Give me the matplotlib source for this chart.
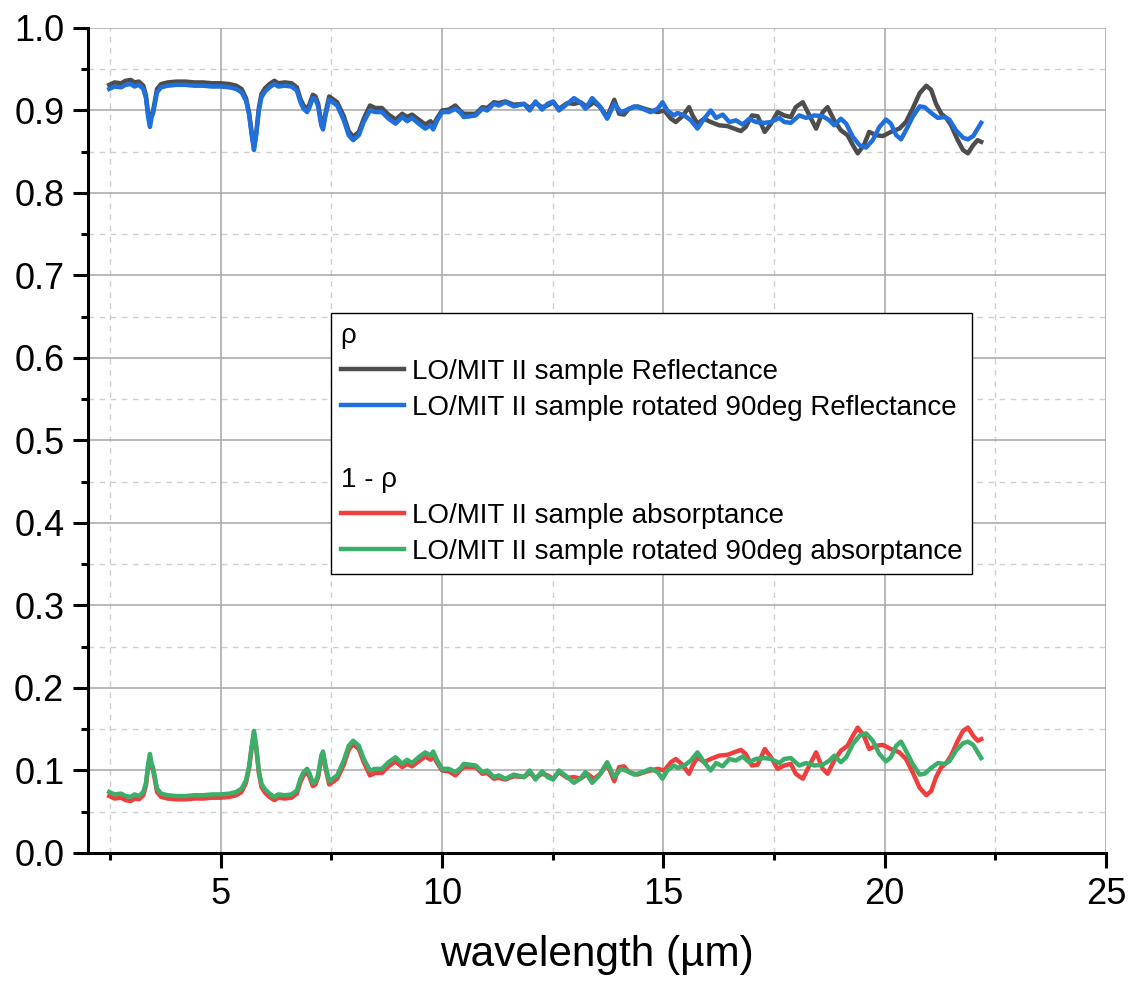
import matplotlib
matplotlib.use('Agg')
import matplotlib.pyplot as plt
from matplotlib.lines import Line2D
from matplotlib.offsetbox import TextArea
from matplotlib.ticker import MultipleLocator, FormatStrFormatter

# reflectance: LO/MIT II sample (gray)
wl_ref = [2.48, 2.6, 2.75, 2.85, 2.97, 3.05, 3.15, 3.25, 3.31, 3.36, 3.40, 3.44, 3.47, 3.50, 3.56, 3.65,
          3.8, 4.0, 4.2, 4.4, 4.6, 4.8, 5.0, 5.2, 5.35, 5.47, 5.57, 5.64, 5.70, 5.75, 5.80, 5.86, 5.92,
          6.0, 6.1, 6.21, 6.3, 6.45, 6.6, 6.72, 6.80, 6.87, 6.95, 7.0, 7.08, 7.14, 7.2, 7.27, 7.31, 7.37,
          7.45, 7.63, 7.78, 7.89, 7.99, 8.12, 8.23, 8.37, 8.49, 8.64, 8.79, 8.95, 9.10, 9.21, 9.32, 9.47,
          9.62, 9.74, 9.80, 9.89, 10.0, 10.15, 10.3, 10.42, 10.49, 10.64, 10.76, 10.91, 11.02, 11.17,
          11.28, 11.43, 11.62, 11.85, 11.98, 12.11, 12.26, 12.38, 12.51, 12.64,
          12.83, 12.98, 13.13, 13.28, 13.43, 13.58, 13.73, 13.89, 14.0, 14.11, 14.22, 14.41, 14.64,
          14.87, 15.02, 15.17, 15.28, 15.43, 15.58, 15.66, 15.77, 15.92, 16.07, 16.26, 16.45, 16.6,
          16.75, 16.86, 17.0, 17.13, 17.29, 17.43, 17.58, 17.73, 17.88,
          17.99, 18.15, 18.3, 18.45, 18.6, 18.71, 18.86, 19.01, 19.16, 19.28, 19.39, 19.53, 19.65,
          19.81, 19.96, 20.14, 20.33, 20.48, 20.63, 20.79, 20.94, 21.05, 21.16, 21.28, 21.39, 21.5,
          21.65, 21.77, 21.88, 22.0, 22.1, 22.18]
refl = [0.931, 0.934, 0.933, 0.936, 0.937, 0.934, 0.935, 0.930, 0.918, 0.895, 0.884, 0.896, 0.899, 0.908, 0.926, 0.932,
        0.934, 0.935, 0.935, 0.934, 0.934, 0.933, 0.933, 0.932, 0.930, 0.926, 0.915, 0.897, 0.872, 0.855, 0.872, 0.903, 0.920,
        0.927, 0.932, 0.936, 0.933, 0.934, 0.933, 0.928, 0.914, 0.906, 0.902, 0.907, 0.919, 0.917, 0.908, 0.886, 0.880, 0.898,
        0.917, 0.910, 0.893, 0.875, 0.868, 0.874, 0.890, 0.906, 0.903, 0.903, 0.895, 0.889, 0.896, 0.892, 0.895, 0.889,
        0.883, 0.887, 0.882, 0.891, 0.900, 0.901, 0.906, 0.899, 0.896, 0.896, 0.896, 0.904, 0.903, 0.910,
        0.909, 0.911, 0.907, 0.908, 0.903, 0.909, 0.904, 0.906, 0.910, 0.902,
        0.909, 0.908, 0.910, 0.904, 0.910, 0.904, 0.892, 0.913, 0.896, 0.895, 0.902, 0.905, 0.901,
        0.898, 0.900, 0.890, 0.886, 0.893, 0.904, 0.894, 0.884, 0.890, 0.886, 0.882, 0.881, 0.878,
        0.875, 0.880, 0.894, 0.893, 0.874, 0.884, 0.898, 0.894, 0.892,
        0.904, 0.910, 0.894, 0.878, 0.898, 0.904, 0.888, 0.876, 0.870, 0.858, 0.848, 0.858, 0.874,
        0.870, 0.869, 0.874, 0.878, 0.886, 0.902, 0.921, 0.930, 0.925, 0.908, 0.896, 0.891, 0.882,
        0.864, 0.852, 0.848, 0.858, 0.864, 0.862]

# reflectance: LO/MIT II sample rotated 90deg (blue)
wl_rot = [2.48, 2.6, 2.75, 2.85, 2.97, 3.05, 3.15, 3.25, 3.31, 3.36, 3.40, 3.44, 3.47, 3.50, 3.56, 3.65,
          3.8, 4.0, 4.2, 4.4, 4.6, 4.8, 5.0, 5.2, 5.35, 5.47, 5.57, 5.64, 5.70, 5.75, 5.80, 5.86, 5.92,
          6.0, 6.1, 6.21, 6.3, 6.45, 6.6, 6.72, 6.80, 6.87, 6.95, 7.0, 7.08, 7.14, 7.2, 7.27, 7.31, 7.37,
          7.45, 7.63, 7.78, 7.89, 7.99, 8.12, 8.23, 8.37, 8.49, 8.64, 8.79, 8.95, 9.10, 9.21, 9.32, 9.47,
          9.62, 9.74, 9.80, 9.89, 10.0, 10.15, 10.3, 10.42, 10.49, 10.64, 10.76, 10.91, 11.02, 11.17,
          11.28, 11.43, 11.62, 11.85, 11.98, 12.11, 12.26, 12.38, 12.51, 12.64,
          12.83, 12.98, 13.12, 13.24, 13.39, 13.55, 13.73, 13.89, 14.04, 14.19, 14.34, 14.53, 14.71,
          14.87, 14.98, 15.09, 15.24, 15.32, 15.47, 15.62, 15.77, 15.92, 16.07, 16.19, 16.34, 16.49,
          16.64, 16.79, 16.94, 17.09, 17.28, 17.43, 17.62, 17.73, 17.88,
          18.07, 18.22, 18.41, 18.6, 18.75, 18.86, 19.01, 19.13, 19.28, 19.43, 19.58, 19.73, 19.88,
          20.03, 20.14, 20.26, 20.37, 20.48, 20.63, 20.79, 20.9, 21.05, 21.2, 21.35, 21.46, 21.61,
          21.77, 21.88, 22.0, 22.1, 22.18]
refl_rot = [0.926, 0.929, 0.928, 0.931, 0.932, 0.929, 0.931, 0.926, 0.915, 0.892, 0.880, 0.893, 0.896, 0.905, 0.922, 0.928,
            0.930, 0.931, 0.931, 0.930, 0.930, 0.929, 0.929, 0.928, 0.926, 0.922, 0.912, 0.895, 0.870, 0.852, 0.870, 0.900, 0.916,
            0.923, 0.928, 0.932, 0.929, 0.930, 0.929, 0.924, 0.910, 0.902, 0.898, 0.903, 0.915, 0.914, 0.905, 0.882, 0.877, 0.895,
            0.913, 0.906, 0.888, 0.870, 0.864, 0.870, 0.886, 0.900, 0.898, 0.898, 0.890, 0.884, 0.892, 0.887, 0.891, 0.884,
            0.878, 0.882, 0.877, 0.888, 0.898, 0.898, 0.902, 0.897, 0.892, 0.893, 0.894, 0.902, 0.900, 0.908,
            0.906, 0.910, 0.905, 0.908, 0.900, 0.911, 0.901, 0.908, 0.911, 0.900,
            0.908, 0.915, 0.910, 0.902, 0.915, 0.906, 0.890, 0.908, 0.898, 0.901, 0.905, 0.902, 0.898,
            0.902, 0.910, 0.900, 0.894, 0.897, 0.894, 0.888, 0.878, 0.890, 0.900, 0.891, 0.895, 0.886,
            0.888, 0.883, 0.890, 0.886, 0.885, 0.886, 0.891, 0.886, 0.885,
            0.894, 0.891, 0.894, 0.893, 0.888, 0.882, 0.890, 0.884, 0.868, 0.858, 0.855, 0.864, 0.880,
            0.889, 0.884, 0.870, 0.865, 0.876, 0.892, 0.905, 0.904, 0.897, 0.891, 0.892, 0.889, 0.876,
            0.867, 0.865, 0.869, 0.878, 0.885]

# absorptance is plotted as 1 - rho
absorp = [1 - r for r in refl]
absorp_rot = [1 - r for r in refl_rot]

plt.rcParams['font.family'] = ['Liberation Sans', 'DejaVu Sans']

fig = plt.figure(figsize=(11.28, 9.81), dpi=100)
ax = fig.add_axes([0.078, 0.1305, 0.9025, 0.841])

ax.plot(wl_ref, refl, color='#4d4d4d', lw=3.2, zorder=3, solid_joinstyle='round')
ax.plot(wl_rot, refl_rot, color='#1f70dc', lw=3.2, zorder=4, solid_joinstyle='round')
ax.plot(wl_ref, absorp, color='#ef3e3e', lw=3.2, zorder=3, solid_joinstyle='round')
ax.plot(wl_rot, absorp_rot, color='#3bae6a', lw=3.2, zorder=4, solid_joinstyle='round')

ax.set_xlim(2, 25)
ax.set_ylim(0, 1)
ax.xaxis.set_major_locator(MultipleLocator(5))
ax.xaxis.set_minor_locator(MultipleLocator(2.5))
ax.yaxis.set_major_locator(MultipleLocator(0.1))
ax.yaxis.set_minor_locator(MultipleLocator(0.05))
ax.yaxis.set_major_formatter(FormatStrFormatter('%.1f'))

ax.grid(which='major', color='#a6a6a6', lw=1.1, ls='-', zorder=0)
ax.grid(which='minor', color='#cfcfcf', lw=1.0, ls=(0, (4, 4)), zorder=0)
ax.set_axisbelow(True)

for s in ['top', 'right']:
    ax.spines[s].set_visible(False)
for s in ['left', 'bottom']:
    ax.spines[s].set_linewidth(2.2)

ax.tick_params(which='major', direction='out', length=11, width=2.2, labelsize=26, pad=6)
ax.tick_params(which='minor', direction='out', length=5, width=2.2)
ax.set_xlabel('wavelength (µm)', fontsize=30.5, labelpad=17)

handles = [Line2D([], [], ls='none'),
           Line2D([], [], color='#4d4d4d', lw=3.2),
           Line2D([], [], color='#1f70dc', lw=3.2),
           Line2D([], [], ls='none'),
           Line2D([], [], ls='none'),
           Line2D([], [], color='#ef3e3e', lw=3.2),
           Line2D([], [], color='#3bae6a', lw=3.2)]
labels = ['ρ',
          'LO/MIT II sample Reflectance',
          'LO/MIT II sample rotated 90deg Reflectance',
          ' ',
          '1 - ρ',
          'LO/MIT II sample absorptance',
          'LO/MIT II sample rotated 90deg absorptance']
leg = ax.legend(handles, labels, loc='upper left', bbox_to_anchor=(0.2387, 0.6545),
                borderaxespad=0, fontsize=20, frameon=True, fancybox=False,
                edgecolor='black', framealpha=1, handlelength=2.27, handletextpad=0.3,
                labelspacing=0.36, borderpad=0.35)
leg.get_frame().set_linewidth(1.0)

# header rows: drop the handle so the text starts at the box edge
for col in leg._legend_handle_box.get_children():
    for row in col.get_children():
        txt = [c for c in row.get_children() if isinstance(c, TextArea)]
        if txt and txt[0].get_text() in ('ρ', '1 - ρ', ' '):
            row._children = [txt[0]]

fig.savefig('out.png', dpi=100)
